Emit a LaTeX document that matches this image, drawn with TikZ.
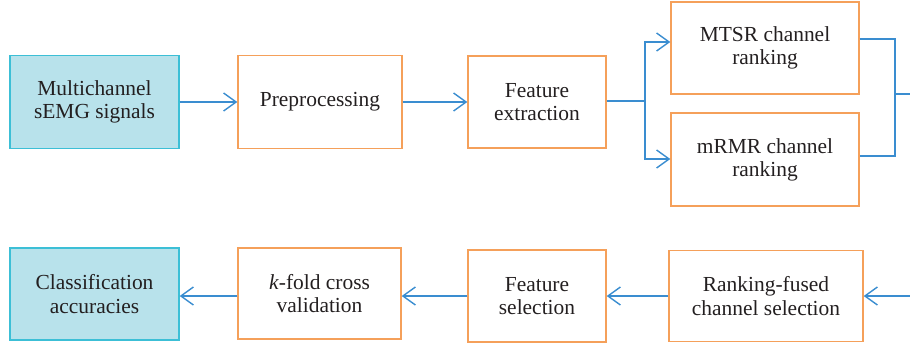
\documentclass[tikz,border=0pt]{standalone}
\usepackage{fontspec}
\setmainfont{Liberation Serif}
\usetikzlibrary{arrows.meta}

\definecolor{boxorange}{HTML}{F5A05A}
\definecolor{boxteal}{HTML}{3CBFD6}
\definecolor{tealfill}{HTML}{B8E2EB}
\definecolor{flowblue}{HTML}{3A8DD0}
\definecolor{textgray}{HTML}{231F20}

\begin{document}
\begin{tikzpicture}[
    every node/.style = {align = center, text = textgray, font = \fontsize{12.2}{13.2}\selectfont},
    stepbox/.style = {draw = boxorange, line width = 0.8pt, inner sep = 0pt},
    endbox/.style = {draw = boxteal, fill = tealfill, line width = 0.8pt, inner sep = 0pt},
    flow/.style = {draw = flowblue, line width = 0.8pt},
    arrow/.style = {flow, -{Straight Barb[length = 2.5mm, width = 3.6mm]}}
  ]
    \useasboundingbox (0, 0) rectangle (18.2, -6.98);
    % top row
    \node[endbox, minimum width = 3.38cm, minimum height = 1.86cm] (multichannel signals) at (1.89, -2.04) {Multichannel \\ sEMG signals};
    \node[stepbox, minimum width = 3.28cm, minimum height = 1.86cm] (preprocessing) at (6.40, -2.04) {Preprocessing};
    \node[stepbox, minimum width = 2.76cm, minimum height = 1.84cm] (feature extraction) at (10.74, -2.04) {Feature \\ extraction};
    \draw[arrow] (multichannel signals) -- (preprocessing);
    \draw[arrow] (preprocessing) -- (feature extraction);
    % two rankings
    \node[stepbox, minimum width = 3.76cm, minimum height = 1.84cm] (mtsr ranking) at (15.30, -0.96) {MTSR channel \\ ranking};
    \node[stepbox, minimum width = 3.76cm, minimum height = 1.86cm] (mrmr ranking) at (15.30, -3.19) {mRMR channel \\ ranking};
    \coordinate (split) at (12.90, -2.02);
    \coordinate (merge) at (17.90, -1.88);
    \coordinate (out) at (18.2, -1.88);
    \draw[flow] (feature extraction.east |- split) -- (split);
    \draw[arrow] (split) |- ([yshift = 0.12cm] mtsr ranking.west);
    \draw[arrow] (split) |- ([yshift = 0.01cm] mrmr ranking.west);
    \draw[flow] ([yshift = 0.18cm] mtsr ranking.east) -| (merge) |- ([yshift = 0.07cm] mrmr ranking.east);
    \draw[flow] (merge) -- (out);
    % bottom row
    \coordinate (in) at (18.2, -5.92);
    \node[stepbox, minimum width = 3.88cm, minimum height = 1.82cm] (fused selection) at (15.32, -5.92) {Ranking-fused \\ channel selection};
    \node[stepbox, minimum width = 2.76cm, minimum height = 1.84cm] (feature selection) at (10.74, -5.92) {Feature \\ selection};
    \node[stepbox, minimum width = 3.26cm, minimum height = 1.82cm] (kfold validation) at (6.39, -5.87) {\textit{k}-fold cross \\ validation};
    \node[endbox, minimum width = 3.38cm, minimum height = 1.84cm] (classification accuracies) at (1.89, -5.88) {Classification \\ accuracies};
    \draw[arrow] (in) -- (fused selection);
    \draw[arrow] (fused selection) -- (feature selection);
    \draw[arrow] (feature selection.west) -- (feature selection.west -| kfold validation.east);
    \draw[arrow] (kfold validation.west |- feature selection.west) -- (classification accuracies.east |- feature selection.west);
  \end{tikzpicture}
\end{document}
